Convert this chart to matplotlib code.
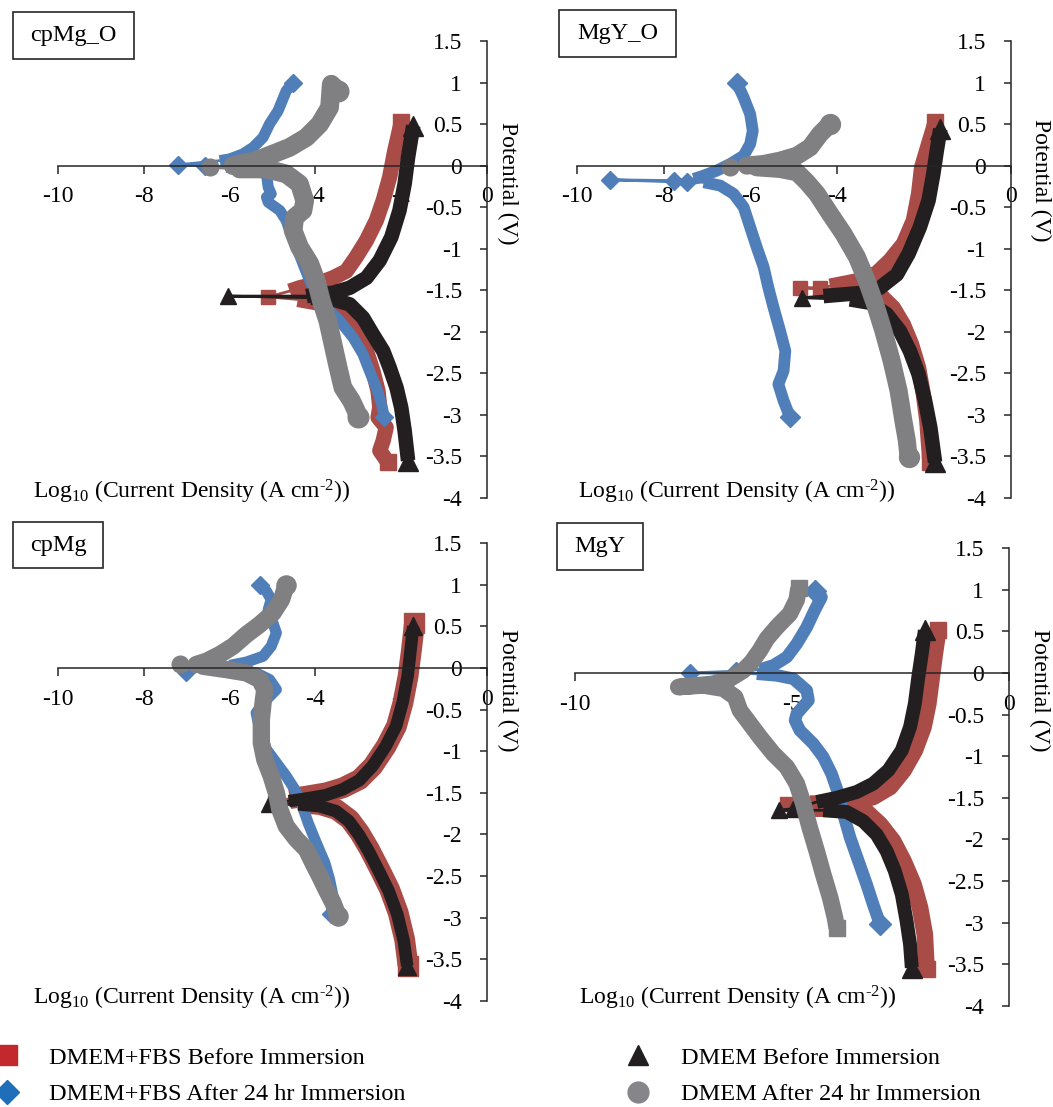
import matplotlib
matplotlib.use("Agg")
import numpy as np
import matplotlib.pyplot as plt
from matplotlib.lines import Line2D
from matplotlib.patches import Rectangle
from matplotlib.ticker import FuncFormatter

plt.rcParams['font.family'] = ['Liberation Serif', 'DejaVu Serif']
plt.rcParams['mathtext.fontset'] = 'custom'
plt.rcParams['mathtext.rm'] = 'Liberation Serif'
plt.rcParams['mathtext.it'] = 'Liberation Serif:italic'
plt.rcParams['axes.unicode_minus'] = False

# ---------------- data: (log10 current density, potential V) ----------------
# Panel cpMg_O
cpMgO_red_anodic = [(-2.00, 0.52), (-2.15, 0.18), (-2.27, -0.14), (-2.42, -0.42), (-2.58, -0.66),
                    (-2.81, -0.90), (-3.05, -1.10), (-3.28, -1.27), (-3.59, -1.35), (-3.90, -1.41),
                    (-4.37, -1.47), (-4.60, -1.51)]
cpMgO_red_tail = [(-5.10, -1.58)]
cpMgO_red_cathodic = [(-4.41, -1.61), (-3.98, -1.65), (-3.59, -1.71), (-3.28, -1.83), (-3.05, -1.99),
                      (-2.81, -2.23), (-2.66, -2.47), (-2.54, -2.71), (-2.50, -2.91), (-2.54, -3.03),
                      (-2.35, -3.15), (-2.42, -3.31), (-2.50, -3.43), (-2.31, -3.57)]
cpMgO_blue_anodic = [(-4.52, 1.00), (-4.68, 0.90), (-4.87, 0.66), (-5.07, 0.50), (-5.22, 0.34),
                     (-5.45, 0.22), (-5.69, 0.14), (-6.00, 0.08), (-6.23, 0.06)]
cpMgO_blue_tail = [(-7.20, 0.01), (-6.58, 0.00)]
cpMgO_blue_cathodic = [(-6.08, -0.02), (-5.53, -0.04), (-5.14, -0.10), (-5.10, -0.26), (-5.03, -0.34),
                       (-5.14, -0.38), (-5.10, -0.44), (-4.83, -0.54), (-4.68, -0.66), (-4.60, -0.78),
                       (-4.44, -0.98), (-4.29, -1.18), (-4.13, -1.39), (-3.98, -1.55), (-3.75, -1.71),
                       (-3.43, -1.87), (-3.12, -2.07), (-2.89, -2.27), (-2.74, -2.47), (-2.58, -2.67),
                       (-2.46, -2.87), (-2.39, -3.03)]
cpMgO_black_anodic = [(-1.72, 0.48), (-1.84, 0.10), (-1.92, -0.22), (-2.04, -0.54), (-2.23, -0.86),
                      (-2.50, -1.14), (-2.81, -1.35), (-3.20, -1.47), (-3.59, -1.53), (-3.98, -1.55),
                      (-4.21, -1.57)]
cpMgO_black_tail = [(-6.04, -1.57)]
cpMgO_black_cathodic = [(-4.10, -1.59), (-3.59, -1.61), (-3.20, -1.67), (-2.89, -1.83), (-2.66, -2.03),
                        (-2.42, -2.23), (-2.27, -2.43), (-2.11, -2.67), (-2.00, -2.91), (-1.92, -3.19),
                        (-1.84, -3.55)]
cpMgO_gray_anodic = [(-3.47, 0.90), (-3.63, 0.98), (-3.67, 0.70), (-3.90, 0.50), (-4.21, 0.34),
                     (-4.60, 0.22), (-4.99, 0.14), (-5.38, 0.06), (-5.77, 0.02), (-5.92, 0.00)]
cpMgO_gray_tail = [(-6.46, -0.02)]
cpMgO_gray_cathodic = [(-5.77, -0.04), (-5.14, -0.04), (-4.68, -0.10), (-4.37, -0.22), (-4.25, -0.42),
                       (-4.29, -0.54), (-4.48, -0.62), (-4.52, -0.78), (-4.37, -0.98), (-4.13, -1.18),
                       (-3.98, -1.39), (-3.86, -1.63), (-3.71, -1.87), (-3.59, -2.15), (-3.47, -2.43),
                       (-3.36, -2.67), (-3.16, -2.83), (-3.05, -2.95), (-3.01, -3.03)]

# Panel MgY_O
MgYO_red_anodic = [(-1.75, 0.52), (-1.90, 0.26), (-2.06, -0.02), (-2.13, -0.34), (-2.25, -0.66),
                   (-2.48, -0.94), (-2.79, -1.14), (-3.09, -1.29), (-3.40, -1.37), (-3.78, -1.41),
                   (-4.17, -1.45)]
MgYO_red_tail = [(-4.40, -1.47), (-4.86, -1.47)]
MgYO_red_cathodic = [(-3.40, -1.51), (-3.02, -1.55), (-2.71, -1.71), (-2.48, -1.91), (-2.29, -2.15),
                     (-2.13, -2.43), (-2.02, -2.75), (-1.94, -3.07), (-1.87, -3.57)]
MgYO_blue_anodic = [(-6.32, 1.00), (-6.16, 0.82), (-6.01, 0.62), (-5.95, 0.42), (-6.01, 0.26),
                    (-6.16, 0.12), (-6.47, 0.02), (-6.78, -0.06), (-7.08, -0.12), (-7.31, -0.16)]
MgYO_blue_tail = [(-7.77, -0.18), (-9.25, -0.17), (-7.47, -0.20)]
MgYO_blue_cathodic = [(-7.08, -0.20), (-6.70, -0.24), (-6.39, -0.34), (-6.16, -0.50), (-6.01, -0.74),
                      (-5.86, -0.98), (-5.70, -1.22), (-5.59, -1.47), (-5.47, -1.71), (-5.32, -1.99),
                      (-5.20, -2.23), (-5.24, -2.47), (-5.36, -2.63), (-5.24, -2.83), (-5.09, -3.03)]
MgYO_black_anodic = [(-1.63, 0.44), (-1.71, 0.18), (-1.79, -0.10), (-1.90, -0.42), (-2.10, -0.74),
                     (-2.36, -1.06), (-2.63, -1.31), (-3.02, -1.47), (-3.40, -1.53), (-3.86, -1.55),
                     (-4.32, -1.57)]
MgYO_black_tail = [(-4.82, -1.59)]
MgYO_black_cathodic = [(-3.71, -1.61), (-3.25, -1.65), (-2.86, -1.79), (-2.56, -1.99), (-2.33, -2.23),
                       (-2.13, -2.51), (-1.98, -2.83), (-1.86, -3.15), (-1.75, -3.57)]
MgYO_gray_anodic = [(-4.17, 0.50), (-4.40, 0.38), (-4.63, 0.22), (-4.93, 0.12), (-5.32, 0.06),
                    (-5.70, 0.02), (-6.09, 0.00)]
MgYO_gray_tail = [(-6.47, -0.02)]
MgYO_gray_cathodic = [(-5.86, -0.02), (-5.32, -0.04), (-4.93, -0.08), (-4.70, -0.20), (-4.47, -0.34),
                      (-4.17, -0.58), (-3.86, -0.82), (-3.55, -1.10), (-3.32, -1.39), (-3.13, -1.67),
                      (-2.94, -1.99), (-2.75, -2.35), (-2.59, -2.71), (-2.48, -3.07), (-2.40, -3.31),
                      (-2.36, -3.51)]

# Panel cpMg
cpMg_red_anodic = [(-1.69, 0.54), (-1.76, 0.22), (-1.84, -0.10), (-1.96, -0.42), (-2.11, -0.70),
                   (-2.35, -0.94), (-2.66, -1.18), (-2.97, -1.34), (-3.36, -1.44), (-3.75, -1.50),
                   (-4.21, -1.54), (-4.60, -1.57)]
cpMg_red_tail = [(-4.95, -1.62)]
cpMg_red_cathodic = [(-4.37, -1.62), (-3.90, -1.64), (-3.51, -1.70), (-3.20, -1.82), (-2.97, -1.98),
                     (-2.74, -2.18), (-2.50, -2.42), (-2.27, -2.66), (-2.07, -2.94), (-1.92, -3.26),
                     (-1.84, -3.58)]
cpMg_blue_anodic = [(-5.30, 1.00), (-5.14, 0.92), (-5.03, 0.82), (-5.10, 0.70), (-4.99, 0.54),
                    (-4.91, 0.42), (-5.03, 0.26), (-5.22, 0.14), (-5.61, 0.07), (-6.00, 0.03)]
cpMg_blue_tail = [(-7.01, -0.05)]
cpMg_blue_cathodic = [(-5.92, -0.02), (-5.38, -0.06), (-5.07, -0.14), (-4.91, -0.26), (-5.14, -0.38),
                      (-5.38, -0.54), (-5.30, -0.74), (-5.14, -0.98), (-4.91, -1.14), (-4.68, -1.30),
                      (-4.48, -1.46), (-4.33, -1.62), (-4.17, -1.86), (-3.98, -2.10), (-3.78, -2.34),
                      (-3.67, -2.54), (-3.59, -2.74), (-3.63, -2.96)]
cpMg_black_anodic = [(-1.72, 0.50), (-1.78, 0.22), (-1.85, -0.10), (-1.97, -0.42), (-2.12, -0.70),
                     (-2.36, -0.94), (-2.67, -1.18), (-2.98, -1.35), (-3.37, -1.46), (-3.77, -1.53),
                     (-4.23, -1.57), (-4.62, -1.60)]
cpMg_black_tail = [(-5.07, -1.64)]
cpMg_black_cathodic = [(-4.40, -1.64), (-3.91, -1.66), (-3.52, -1.72), (-3.22, -1.84), (-2.99, -2.00),
                       (-2.76, -2.20), (-2.52, -2.44), (-2.29, -2.68), (-2.09, -2.96), (-1.94, -3.28),
                       (-1.86, -3.58)]
cpMg_gray_anodic = [(-4.68, 1.00), (-4.79, 0.82), (-4.99, 0.66), (-5.30, 0.52), (-5.61, 0.40),
                    (-5.92, 0.26), (-6.23, 0.16), (-6.54, 0.08), (-6.78, 0.04)]
cpMg_gray_tail = [(-7.16, 0.05)]
cpMg_gray_cathodic = [(-6.62, 0.02), (-6.08, -0.02), (-5.61, -0.06), (-5.30, -0.14), (-5.18, -0.26),
                      (-5.22, -0.42), (-5.26, -0.62), (-5.26, -0.90), (-5.18, -1.10), (-5.03, -1.30),
                      (-4.91, -1.50), (-4.83, -1.70), (-4.68, -1.90), (-4.44, -2.06), (-4.21, -2.18),
                      (-4.06, -2.34), (-3.90, -2.50), (-3.75, -2.66), (-3.59, -2.82), (-3.47, -2.98)]

# Panel MgY
MgY_red_anodic = [(-1.63, 0.51), (-1.71, 0.23), (-1.78, -0.05), (-1.86, -0.37), (-1.97, -0.65),
                  (-2.17, -0.93), (-2.43, -1.17), (-2.74, -1.37), (-3.13, -1.49), (-3.59, -1.55),
                  (-4.12, -1.57), (-4.59, -1.57)]
MgY_red_tail = [(-5.12, -1.57)]
MgY_red_cathodic = [(-4.51, -1.63), (-3.74, -1.63), (-3.28, -1.67), (-2.97, -1.82), (-2.67, -2.02),
                    (-2.43, -2.26), (-2.20, -2.54), (-2.05, -2.82), (-1.94, -3.14), (-1.90, -3.56)]
MgY_blue_anodic = [(-4.47, 0.98), (-4.32, 0.91), (-4.47, 0.76), (-4.66, 0.55), (-4.89, 0.35),
                   (-5.12, 0.19), (-5.43, 0.09), (-5.74, 0.04)]
MgY_blue_tail = [(-6.28, 0.02), (-7.35, 0.00)]
MgY_blue_cathodic = [(-5.81, -0.01), (-5.35, -0.03), (-4.97, -0.07), (-4.66, -0.21), (-4.62, -0.33),
                     (-4.89, -0.49), (-4.93, -0.57), (-4.82, -0.69), (-4.51, -0.85), (-4.28, -1.01),
                     (-4.09, -1.21), (-3.93, -1.45), (-3.82, -1.69), (-3.66, -1.98), (-3.47, -2.26),
                     (-3.28, -2.54), (-3.13, -2.78), (-2.97, -3.02)]
MgY_black_anodic = [(-1.94, 0.51), (-2.01, 0.23), (-2.09, -0.05), (-2.17, -0.37), (-2.28, -0.65),
                    (-2.47, -0.93), (-2.78, -1.17), (-3.13, -1.33), (-3.51, -1.43), (-3.97, -1.50),
                    (-4.43, -1.55)]
MgY_black_tail = [(-4.97, -1.63), (-5.31, -1.65)]
MgY_black_cathodic = [(-4.28, -1.65), (-3.74, -1.67), (-3.36, -1.78), (-3.05, -1.94), (-2.82, -2.14),
                      (-2.63, -2.38), (-2.47, -2.66), (-2.36, -2.98), (-2.28, -3.26), (-2.24, -3.54)]
MgY_gray_anodic = [(-4.85, 1.02), (-4.89, 0.88), (-5.05, 0.71), (-5.35, 0.55), (-5.58, 0.41),
                   (-5.74, 0.27), (-5.93, 0.13), (-6.12, 0.03), (-6.43, -0.07), (-6.81, -0.13),
                   (-7.20, -0.15), (-7.62, -0.17)]
MgY_gray_tail = []
MgY_gray_cathodic = [(-7.04, -0.15), (-6.58, -0.19), (-6.31, -0.29), (-6.20, -0.45), (-5.97, -0.61),
                     (-5.74, -0.77), (-5.43, -0.97), (-5.12, -1.13), (-4.89, -1.33), (-4.74, -1.57),
                     (-4.59, -1.86), (-4.43, -2.14), (-4.28, -2.42), (-4.12, -2.70), (-4.01, -2.94),
                     (-3.97, -3.06)]

panel_titles = ['cpMg_O', 'MgY_O', 'cpMg', 'MgY']
x_ticks_grid = [-10, -8, -6, -4, -2, 0]
x_ticks_five = [-10, -5, 0]
y_ticks = [1.5, 1, 0.5, 0, -0.5, -1, -1.5, -2, -2.5, -3, -3.5, -4]
legend_labels = ['DMEM+FBS Before Immersion', 'DMEM+FBS After 24 hr Immersion',
                 'DMEM Before Immersion', 'DMEM After 24 hr Immersion']

# ---------------- styles ----------------
RED, BLUE, BLACK, GRAY = '#A94B46', '#4F7EB8', '#231F20', '#808083'
FIG_W, FIG_H = 1053, 1107

# series order: red, blue, black, gray (draw order)
panels = [
    dict(rect=(58, 41, 487, 498), xticks=x_ticks_grid, title_box=(13, 12, 134, 59),
         ylab=(1.047, 0.689), xlab=(0.312, 0.013),
         series=[(cpMgO_red_anodic, cpMgO_red_tail, cpMgO_red_cathodic, RED, 's', 11.0, 'butt'),
                 (cpMgO_blue_anodic, cpMgO_blue_tail, cpMgO_blue_cathodic, BLUE, 'D', 8.0, 'butt'),
                 (cpMgO_black_anodic, cpMgO_black_tail, cpMgO_black_cathodic, BLACK, '^', 10.5, 'butt'),
                 (cpMgO_gray_anodic, cpMgO_gray_tail, cpMgO_gray_cathodic, GRAY, 'o', 13.5, 'round')]),
    dict(rect=(577, 41, 1011, 498), xticks=x_ticks_grid, title_box=(559, 10, 676, 57),
         ylab=(1.067, 0.696), xlab=(0.369, 0.013),
         series=[(MgYO_red_anodic, MgYO_red_tail, MgYO_red_cathodic, RED, 's', 11.0, 'butt'),
                 (MgYO_blue_anodic, MgYO_blue_tail, MgYO_blue_cathodic, BLUE, 'D', 8.5, 'butt'),
                 (MgYO_black_anodic, MgYO_black_tail, MgYO_black_cathodic, BLACK, '^', 10.5, 'butt'),
                 (MgYO_gray_anodic, MgYO_gray_tail, MgYO_gray_cathodic, GRAY, 'o', 13.0, 'round')]),
    dict(rect=(58, 543, 487, 1001), xticks=x_ticks_grid, title_box=(13, 522, 103, 568),
         ylab=(1.047, 0.679), xlab=(0.312, 0.007),
         series=[(cpMg_red_anodic, cpMg_red_tail, cpMg_red_cathodic, RED, 's', 15.0, 'butt'),
                 (cpMg_blue_anodic, cpMg_blue_tail, cpMg_blue_cathodic, BLUE, 'D', 8.0, 'butt'),
                 (cpMg_black_anodic, cpMg_black_tail, cpMg_black_cathodic, BLACK, '^', 9.0, 'butt'),
                 (cpMg_gray_anodic, cpMg_gray_tail, cpMg_gray_cathodic, GRAY, 'o', 12.5, 'round')]),
    dict(rect=(575, 548, 1009, 1006), xticks=x_ticks_five, title_box=(557, 523, 643, 570),
         ylab=(1.071, 0.690), xlab=(0.376, 0.017),
         series=[(MgY_red_anodic, MgY_red_tail, MgY_red_cathodic, RED, 's', 12.0, 'butt'),
                 (MgY_blue_anodic, MgY_blue_tail, MgY_blue_cathodic, BLUE, 'D', 9.0, 'butt'),
                 (MgY_black_anodic, MgY_black_tail, MgY_black_cathodic, BLACK, '^', 10.0, 'butt'),
                 (MgY_gray_anodic, MgY_gray_tail, MgY_gray_cathodic, GRAY, 's', 12.0, 'butt')]),
]

END_SCALE = {'s': 1.0, 'D': 1.2, '^': 1.4, 'o': 1.1}
TAIL_MS = {'s': 10, 'D': 9, '^': 11, 'o': 12}

fig = plt.figure(figsize=(FIG_W / 100, FIG_H / 100), dpi=100)


def draw_series(ax, anodic, tail, cathodic, color, marker, lw, cap, z):
    an = np.asarray(anodic, dtype=float)
    ca = np.asarray(cathodic, dtype=float)
    if len(tail):
        tl = np.asarray(tail, dtype=float)
        conn = np.vstack([an[-1:], tl, ca[:1]])
        ax.plot(conn[:, 0], conn[:, 1], color=color, lw=2.0, zorder=z, clip_on=False)
        ax.plot(tl[:, 0], tl[:, 1], ls='none', marker=marker, ms=TAIL_MS[marker],
                color=color, mec=color, zorder=z, clip_on=False)
        segs = [an, ca]
    else:
        segs = [np.vstack([an, ca])]
    for seg in segs:
        ax.plot(seg[:, 0], seg[:, 1], color=color, lw=lw, solid_capstyle=cap,
                solid_joinstyle='round', zorder=z, clip_on=False)
    ends = np.vstack([an[:1], ca[-1:]])
    ax.plot(ends[:, 0], ends[:, 1], ls='none', marker=marker, ms=lw * END_SCALE[marker],
            color=color, mec=color, zorder=z, clip_on=False)


fmt = FuncFormatter(lambda v, p: f'{v:g}')
for p in panels:
    l, t, r, b = p['rect']
    ax = fig.add_axes([l / FIG_W, 1 - b / FIG_H, (r - l) / FIG_W, (b - t) / FIG_H])
    ax.patch.set_visible(False)
    ax.set_xlim(-10, 0)
    ax.set_ylim(-4, 1.5)
    for s in ('top', 'right'):
        ax.spines[s].set_visible(False)
    ax.spines['bottom'].set_position(('data', 0))
    ax.spines['left'].set_position(('data', 0))
    for s in ('bottom', 'left'):
        ax.spines[s].set_linewidth(1.1)
        ax.spines[s].set_color('#262626')
    ax.set_xticks(p['xticks'])
    ax.set_yticks(y_ticks)
    ax.xaxis.set_major_formatter(fmt)
    ax.yaxis.set_major_formatter(fmt)
    ax.tick_params(axis='x', direction='out', length=6, width=1.1, pad=9, labelsize=17,
                   color='#262626')
    ax.tick_params(axis='y', direction='out', length=5, width=1.1, pad=13, labelsize=17,
                   color='#262626')
    for i, (an, tl, ca, col, mk, lw, cap) in enumerate(p['series']):
        draw_series(ax, an, tl, ca, col, mk, lw, cap, 2 + i * 0.01)
    ax.text(p['ylab'][0], p['ylab'][1], 'Potential (V)', rotation=-90, ha='center', va='center',
            transform=ax.transAxes, fontsize=17)
    ax.text(p['xlab'][0], p['xlab'][1], 'Log$_{10}$ (Current Density (A cm$^{\\text{-2}}$))',
            ha='center', va='center', transform=ax.transAxes, fontsize=17)

for p, title in zip(panels, panel_titles):
    x0, y0, x1, y1 = p['title_box']
    fig.add_artist(Rectangle((x0 / FIG_W, 1 - y1 / FIG_H), (x1 - x0) / FIG_W, (y1 - y0) / FIG_H,
                             transform=fig.transFigure, fill=False, lw=1.2, ec='#262626'))
    fig.text((x0 + x1) / 2 / FIG_W, 1 - (y0 + y1) / 2 / FIG_H, title, ha='center', va='center',
             fontsize=17.5)

# legend
h_left = [Line2D([], [], ls='none', marker='s', ms=14, color='#C3282D', mec='#C3282D'),
          Line2D([], [], ls='none', marker='D', ms=12.5, color='#1E6EB9', mec='#1E6EB9')]
h_right = [Line2D([], [], ls='none', marker='^', ms=15, color=BLACK, mec=BLACK),
           Line2D([], [], ls='none', marker='o', ms=15, color='#85858A', mec='#85858A')]
leg_kw = dict(loc='center left', frameon=False, fontsize=17.5, borderpad=0, borderaxespad=0,
              handlelength=1.2, labelspacing=0.58)
leg1 = fig.legend(h_left, legend_labels[:2], bbox_to_anchor=(-8 / FIG_W, 1 - 1076 / FIG_H),
                  handletextpad=1.15, **leg_kw)
leg2 = fig.legend(h_right, legend_labels[2:], bbox_to_anchor=(623 / FIG_W, 1 - 1076 / FIG_H),
                  handletextpad=1.2, **leg_kw)

fig.savefig('out.png', dpi=100)
